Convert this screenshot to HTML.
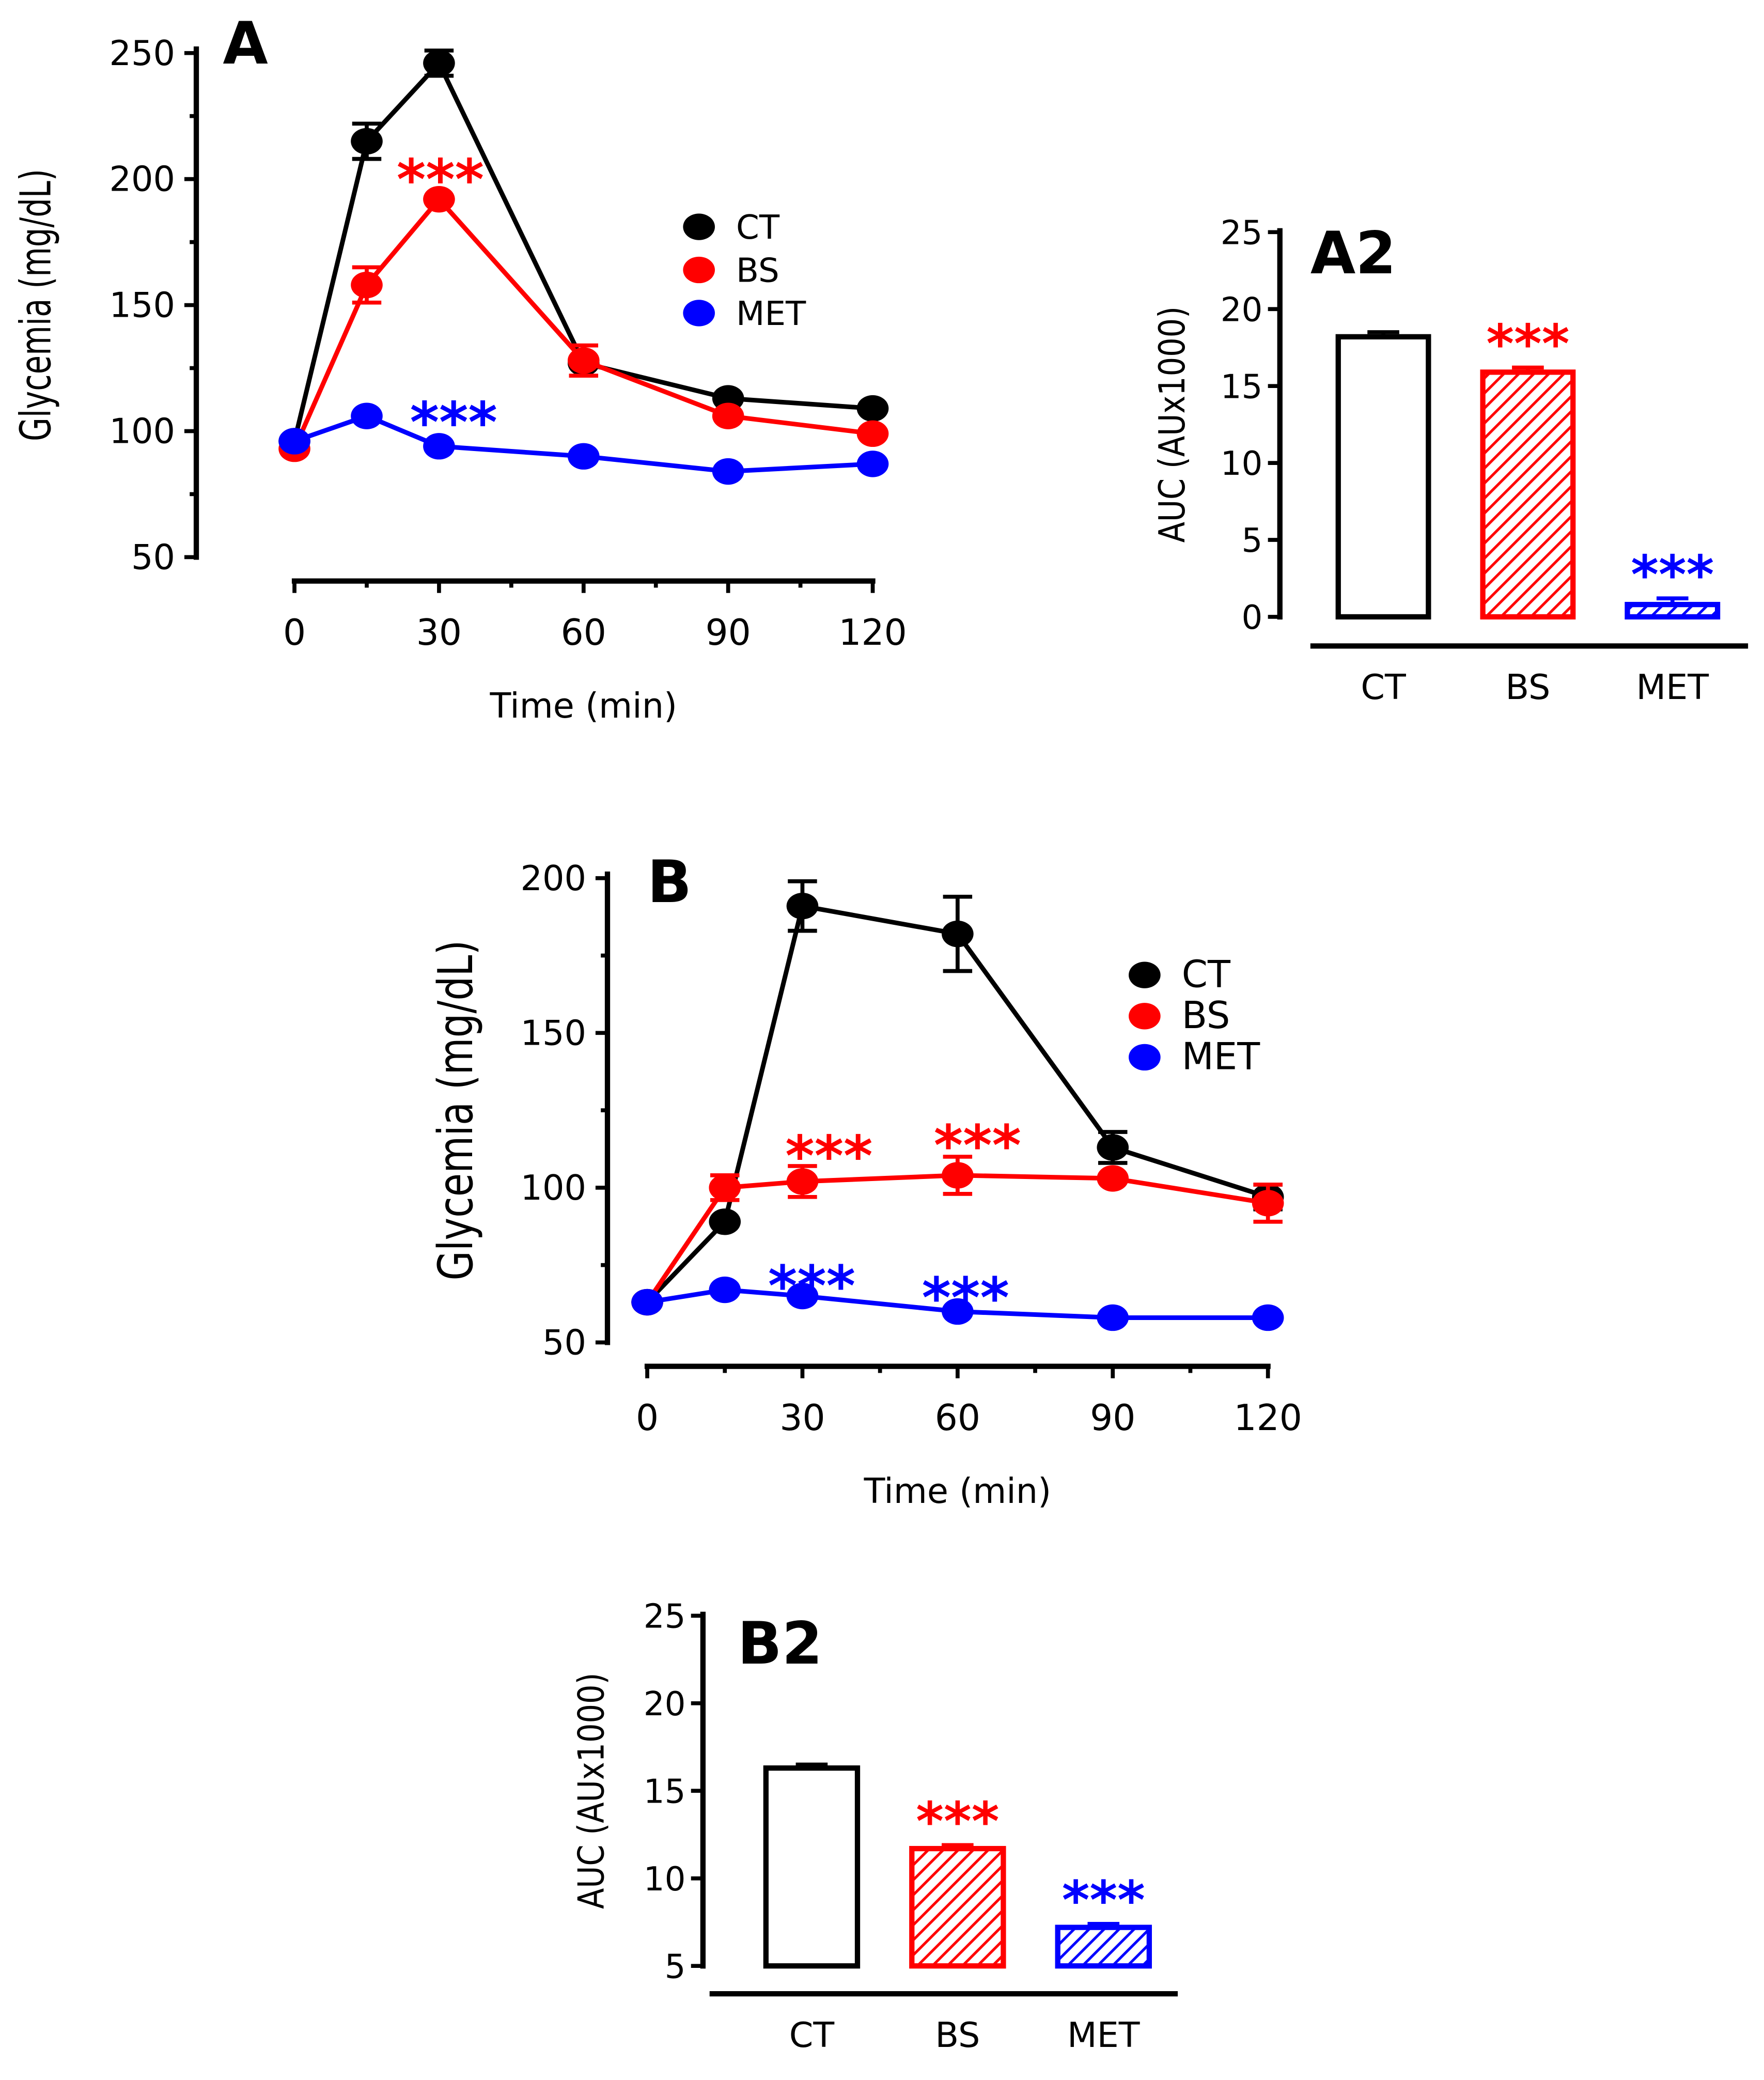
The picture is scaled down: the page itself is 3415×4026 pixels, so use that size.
<!DOCTYPE html>
<html><head><meta charset="utf-8"><style>
html,body{margin:0;padding:0;background:#fff;}
svg{display:block;}
text{font-family:"DejaVu Sans","Liberation Sans",sans-serif;}
</style></head><body>
<svg id="fig" width="3415" height="4026" viewBox="0 0 1330 1568" xmlns="http://www.w3.org/2000/svg">
<defs>
<pattern id="hatchR" patternUnits="userSpaceOnUse" width="8" height="8" patternTransform="rotate(45)"><rect width="8" height="8" fill="#fff"/><line x1="0" y1="0" x2="0" y2="8" stroke="#f00" stroke-width="4"/></pattern>
<pattern id="hatchB" patternUnits="userSpaceOnUse" width="8" height="8" patternTransform="rotate(45)"><rect width="8" height="8" fill="#fff"/><line x1="0" y1="0" x2="0" y2="8" stroke="#00f" stroke-width="4"/></pattern>
</defs>
<g id="gA"></g>
<g id="gA2"></g>
<g id="gB"></g>
<g id="gB2"></g>
</svg>
<script>
const times = [0, 15, 30, 60, 90, 120];
const xTicks = [0, 30, 60, 90, 120];
const aCT = [96, 215, 246, 127, 113, 109];
const aBS = [93, 158, 192, 128, 106, 99];
const aMET = [96, 106, 94, 90, 84, 87];
const aCTerr = [0, 7, 5, 0, 0, 0];
const aBSerr = [0, 7, 0, 6, 0, 0];
const aYTicks = [50, 100, 150, 200, 250];
const bCT = [63, 89, 191, 182, 113, 97];
const bBS = [63, 100, 102, 104, 103, 95];
const bMET = [63, 67, 65, 60, 58, 58];
const bCTerr = [0, 0, 8, 12, 5, 4];
const bBSerr = [0, 4, 5, 6, 0, 6];
const bYTicks = [50, 100, 150, 200];
const groups = ["CT", "BS", "MET"];
const a2Values = [18.2, 15.9, 0.8];
const a2Err = [0.3, 0.3, 0.4];
const a2YTicks = [0, 5, 10, 15, 20, 25];
const b2Values = [16.3, 11.7, 7.2];
const b2Err = [0.2, 0.2, 0.2];
const b2YTicks = [5, 10, 15, 20, 25];

const NS = "http://www.w3.org/2000/svg";
function mk(parent, tag, attrs, txt){
  const e = document.createElementNS(NS, tag);
  for (const k in attrs) e.setAttribute(k, attrs[k]);
  if (txt !== undefined) e.textContent = txt;
  parent.appendChild(e);
  return e;
}
const colors = {CT:"#000", BS:"#f00", MET:"#00f"};

function lineChart(g, cfg){
  const sx = t => cfg.x0 + (t - 0) / 120 * (cfg.x1 - cfg.x0);
  const sy = v => cfg.yb + (v - cfg.vmin) / (cfg.vmax - cfg.vmin) * (cfg.yt - cfg.yb);
  let e = mk(g, "line", {x1:cfg.ax, y1:cfg.yt-5, x2:cfg.ax, y2:cfg.yb+2, stroke:"#000","stroke-width":4});
  
  
  cfg.yticks.forEach((v, i) => {
    const y = sy(v);
    mk(g, "line", {x1:cfg.ax-9, y1:y, x2:cfg.ax, y2:y, stroke:"#000","stroke-width":3});
    const t = mk(g, "text", {x:cfg.ax-16, y:y+9, "text-anchor":"end", "font-size":26}, v);
    
    
    if (i < cfg.yticks.length - 1) {
      const ym = sy(v + (cfg.yticks[1]-cfg.yticks[0])/2);
      mk(g, "line", {x1:cfg.ax-5, y1:ym, x2:cfg.ax, y2:ym, stroke:"#000","stroke-width":3});
    }
  });
  e = mk(g, "line", {x1:cfg.x0-2, y1:cfg.xay, x2:cfg.x1+2, y2:cfg.xay, stroke:"#000","stroke-width":4});
  
  
  xTicks.forEach(t => {
    mk(g, "line", {x1:sx(t), y1:cfg.xay, x2:sx(t), y2:cfg.xay+9, stroke:"#000","stroke-width":3});
    if (t < 120) mk(g, "line", {x1:sx(t+15), y1:cfg.xay, x2:sx(t+15), y2:cfg.xay+5, stroke:"#000","stroke-width":3});
    const tl = mk(g, "text", {x:sx(t), y:cfg.xay+48, "text-anchor":"middle", "font-size":27}, t);
    
    
  });
  const xt = mk(g, "text", {x:(cfg.x0+cfg.x1)/2, y:cfg.xay+103, "text-anchor":"middle", "font-size":26}, "Time (min)");
  
  
  const yt = mk(g, "text", {x:0, y:0, "text-anchor":"middle", "font-size":cfg.ytSize, transform:`translate(${cfg.ytx},${(cfg.yt+cfg.yb)/2}) rotate(-90) scale(${cfg.ytScale},1)`}, "Glycemia (mg/dL)");
  
  
  const pl = mk(g, "text", {x:cfg.labX, y:cfg.labY, "font-size":44, "font-weight":"bold"}, cfg.label);
  
  
  cfg.series.forEach(s => {
    const c = colors[s.name];
    const pts = s.vals.map((v,i) => sx(times[i]) + "," + sy(v)).join(" ");
    const p = mk(g, "polyline", {points:pts, fill:"none", stroke:c, "stroke-width":3.5});
    
    
    s.vals.forEach((v,i) => {
      const er = s.err ? s.err[i] : 0;
      if (er > 0) {
        const x = sx(times[i]);
        mk(g, "line", {x1:x, y1:sy(v+er), x2:x, y2:sy(v-er), stroke:c, "stroke-width":3});
        mk(g, "line", {x1:x-11, y1:sy(v+er), x2:x+11, y2:sy(v+er), stroke:c, "stroke-width":3});
        mk(g, "line", {x1:x-11, y1:sy(v-er), x2:x+11, y2:sy(v-er), stroke:c, "stroke-width":3});
      }
      const pt = mk(g, "ellipse", {cx:sx(times[i]), cy:sy(v), rx:12, ry:10, fill:c});
      
      
    });
  });
  groups.forEach((n,i) => {
    const y = cfg.legY + i*cfg.legDy;
    const m = mk(g, "ellipse", {cx:cfg.legX, cy:y, rx:12, ry:10, fill:colors[n]});
    
    
    const t = mk(g, "text", {x:cfg.legX+28, y:y+9, "font-size":cfg.legSize}, n);
    
    
  });
  cfg.stars.forEach(s => {
    const t = mk(g, "text", {x:s[0], y:s[1], "text-anchor":"middle", "font-size":42, "font-weight":"bold", fill:s[2]}, "***");
    
    
  });
}

function barChart(g, cfg){
  const sy = v => cfg.yb + (v - cfg.vmin)/(cfg.vmax - cfg.vmin)*(cfg.yt - cfg.yb);
  let e = mk(g, "line", {x1:cfg.ax, y1:cfg.yt-3, x2:cfg.ax, y2:cfg.yb+2, stroke:"#000","stroke-width":4});
  
  
  cfg.yticks.forEach(v => {
    const y = sy(v);
    mk(g, "line", {x1:cfg.ax-9, y1:y, x2:cfg.ax, y2:y, stroke:"#000","stroke-width":3});
    const t = mk(g, "text", {x:cfg.ax-13, y:y+9, "text-anchor":"end", "font-size":25}, v);
    
    
  });
  e = mk(g, "line", {x1:cfg.xa0, y1:cfg.xay, x2:cfg.xa1, y2:cfg.xay, stroke:"#000","stroke-width":4});
  
  
  const fills = ["#fff", "url(#hatchR)", "url(#hatchB)"];
  groups.forEach((n,i) => {
    const xc = cfg.bx0 + i*cfg.bdx;
    const v = cfg.vals[i], er = cfg.err[i];
    const c = colors[n];
    mk(g, "line", {x1:xc, y1:sy(v), x2:xc, y2:sy(v+er), stroke:c, "stroke-width":3});
    mk(g, "line", {x1:xc-12, y1:sy(v+er), x2:xc+12, y2:sy(v+er), stroke:c, "stroke-width":3});
    const r = mk(g, "rect", {x:xc-cfg.bw/2, y:sy(v), width:cfg.bw, height:sy(cfg.vmin)-sy(v), fill:fills[i], stroke:c, "stroke-width":4});
    
    
    const t = mk(g, "text", {x:xc, y:cfg.xay+40, "text-anchor":"middle", "font-size":26}, n);
    
    
    if (i > 0) {
      const s = mk(g, "text", {x:xc, y:sy(v+er)-4, "text-anchor":"middle", "font-size":40, "font-weight":"bold", fill:c}, "***");
      
      
    }
  });
  const yt = mk(g, "text", {x:0, y:0, "text-anchor":"middle", "font-size":27, transform:`translate(${cfg.ytx},${(cfg.yt+cfg.yb)/2}) rotate(-90) scale(0.85,1)`}, "AUC (AUx1000)");
  
  
  const pl = mk(g, "text", {x:cfg.labX, y:cfg.labY, "font-size":44, "font-weight":"bold"}, cfg.label);
  
  
}

lineChart(document.getElementById("gA"), {x0:222, x1:658, ax:148, yt:40, yb:420, vmin:50, vmax:250, xay:438,
  yticks:aYTicks, ytx:38, ytSize:32, ytScale:0.72, label:"A", labX:168, labY:48,
  legX:527, legY:171, legDy:32.5, legSize:25,
  series:[{name:"CT",vals:aCT,err:aCTerr},{name:"BS",vals:aBS,err:aBSerr},{name:"MET",vals:aMET}],
  stars:[[332,150,"#f00"],[342,333,"#00f"]]});
lineChart(document.getElementById("gB"), {x0:488, x1:956, ax:458, yt:662, yb:1012, vmin:50, vmax:200, xay:1030,
  yticks:bYTicks, ytx:356, ytSize:36, ytScale:0.8, label:"B", labX:488, labY:680,
  legX:863, legY:735, legDy:31, legSize:28,
  series:[{name:"CT",vals:bCT,err:bCTerr},{name:"BS",vals:bBS,err:bBSerr},{name:"MET",vals:bMET}],
  stars:[[625,886,"#f00"],[737,878,"#f00"],[612,984,"#00f"],[728,993,"#00f"]]});
barChart(document.getElementById("gA2"), {ax:965, yt:175, yb:465, vmin:0, vmax:25, xay:487, xa0:988, xa1:1318,
  yticks:a2YTicks, vals:a2Values, err:a2Err, bx0:1043, bdx:109, bw:68, ytx:893, label:"A2", labX:988, labY:206});
barChart(document.getElementById("gB2"), {ax:530, yt:1218, yb:1482, vmin:5, vmax:25, xay:1503, xa0:535, xa1:888,
  yticks:b2YTicks, vals:b2Values, err:b2Err, bx0:612, bdx:110, bw:69, ytx:455, label:"B2", labX:556, labY:1254});
</script>
</body></html>
